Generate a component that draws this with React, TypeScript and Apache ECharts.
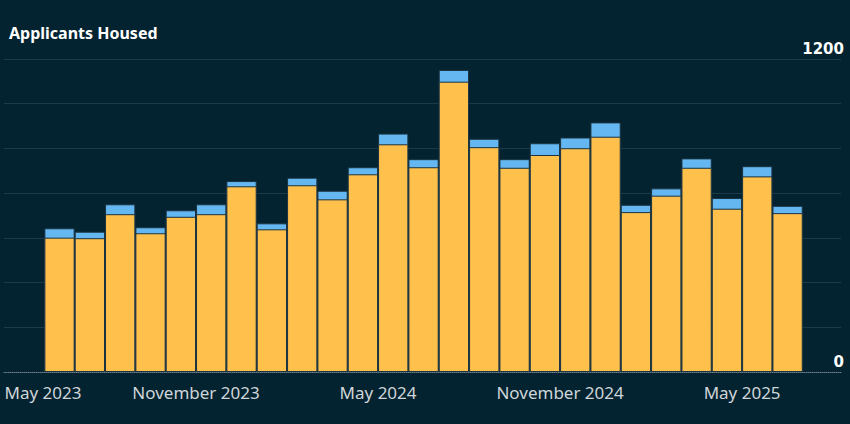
import React, { useEffect, useRef } from "react";
import * as echarts from "echarts";

// Monthly bars (each bar fills its month on a continuous month axis)
const months = [
  "2023-06", "2023-07", "2023-08", "2023-09", "2023-10", "2023-11", "2023-12",
  "2024-01", "2024-02", "2024-03", "2024-04", "2024-05", "2024-06", "2024-07",
  "2024-08", "2024-09", "2024-10", "2024-11", "2024-12",
  "2025-01", "2025-02", "2025-03", "2025-04", "2025-05", "2025-06",
];
const housedMain = [
  515, 513, 605, 532, 595, 605, 712, 547, 716, 662, 758, 873, 785, 1113,
  862, 783, 832, 858, 902, 613, 676, 783, 626, 750, 609,
];
const housedExtra = [
  36, 25, 38, 23, 25, 38, 20, 23, 29, 33, 27, 41, 31, 45,
  32, 33, 45, 41, 55, 28, 28, 36, 41, 39, 28,
];
const tickMonths = ["2023-05", "2023-11", "2024-05", "2024-11", "2025-05"];
const tickLabels = ["May 2023", "November 2023", "May 2024", "November 2024", "May 2025"];
const yTickValues = [0, 1200];

const BG = "#032330";
const YELLOW = "#FFC14C";
const BLUE = "#64B7F0";

function monthIndex(s: string): number {
  const [y, m] = s.split("-").map(Number);
  return (y - 2023) * 12 + (m - 5);
}

export default function App() {
  const ref = useRef<HTMLDivElement>(null);

  useEffect(() => {
    if (!ref.current) return;
    const chart = echarts.init(ref.current, null, { renderer: "svg" });
    const tickIdx = tickMonths.map(monthIndex);
    const labelFor = (v: number) => {
      const k = tickIdx.findIndex((t) => Math.abs(t - v) < 0.01);
      if (k < 0) return "";
      return k === 0 ? "{first|" + tickLabels[k] + "}" : tickLabels[k];
    };
    // the blue segment sits on top of the yellow one: draw the total in blue,
    // then the yellow part over it
    const totalData = months.map((mo, i) => [monthIndex(mo) + 0.5, housedMain[i] + housedExtra[i]]);
    const mainData = months.map((mo, i) => [monthIndex(mo) + 0.5, housedMain[i]]);

    chart.setOption({
      animation: false,
      backgroundColor: BG,
      title: {
        text: "Applicants Housed",
        left: 4,
        top: 20,
        textStyle: {
          color: "#ffffff",
          fontFamily: "Noto Sans",
          fontWeight: "bold",
          fontSize: 16,
        },
      },
      grid: {
        left: 4,
        right: 9,
        top: 59,
        bottom: 52,
        containLabel: false,
        outerBoundsMode: "none",
      },
      xAxis: {
        type: "value",
        min: -0.33,
        max: 27.26,
        axisLine: {
          show: true,
          lineStyle: { color: "#6d7f88", type: "dotted", width: 1 },
        },
        axisTick: { show: false },
        splitLine: { show: false },
        axisLabel: {
          customValues: tickIdx,
          formatter: labelFor,
          color: "#cfd5d9",
          fontFamily: "Noto Sans",
          fontSize: 17,
          margin: 12,
          rich: {
            first: {
              color: "#cfd5d9",
              fontFamily: "Noto Sans",
              fontSize: 17,
              padding: [0, 0, 0, 58],
            },
          },
        },
      },
      yAxis: {
        type: "value",
        position: "right",
        min: 0,
        max: 1200,
        interval: 1200 / 7,
        axisLine: { show: false },
        axisTick: { show: false },
        splitLine: {
          show: true,
          showMinLine: false,
          lineStyle: { color: "#1a3b47", width: 1 },
        },
        axisLabel: {
          customValues: yTickValues,
          inside: true,
          margin: -3,
          align: "right",
          verticalAlign: "bottom",
          padding: [0, 0, 3, 0],
          color: "#ffffff",
          fontFamily: "DejaVu Sans",
          fontWeight: "bold",
          fontSize: 15,
          formatter: (v: number) => String(Math.round(v)),
        },
      },
      series: [
        {
          name: "Total housed",
          type: "bar",
          barWidth: 30.3,
          barGap: "-100%",
          data: totalData,
          itemStyle: { color: BLUE, borderColor: "#1b3340", borderWidth: 1 },
        },
        {
          name: "Housed",
          type: "bar",
          barWidth: 30.3,
          barGap: "-100%",
          data: mainData,
          itemStyle: { color: YELLOW, borderColor: "#1b3340", borderWidth: 1 },
        },
      ],
    });
    return () => chart.dispose();
  }, []);

  return (
    <div
      ref={ref}
      style={{ position: "fixed", left: 0, top: 0, width: 850, height: 424, background: BG }}
    />
  );
}
